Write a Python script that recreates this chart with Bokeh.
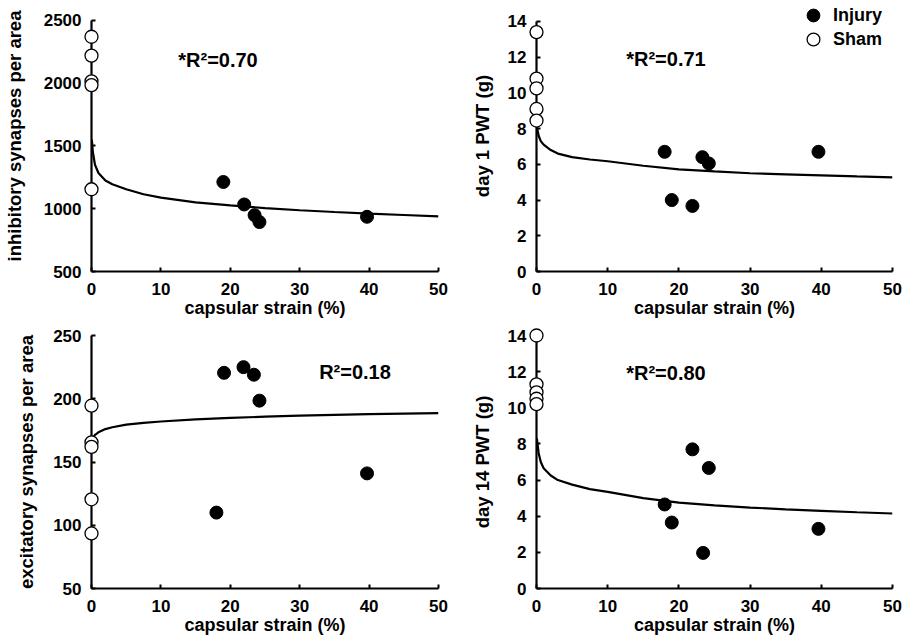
from bokeh.plotting import figure
from bokeh.layouts import gridplot
from bokeh.models import Range1d, SingleIntervalTicker, Label, Legend, LegendItem
from bokeh.embed import file_html
from bokeh.resources import INLINE

FONT = "Liberation Sans"

# ---------------- data ----------------
x_ticks_interval = 10

# panel 1: inhibitory synapses per area
sham_y1 = [2370, 2220, 2015, 1985, 1155]
inj_x1 = [19.0, 22.0, 23.5, 24.2, 39.7]
inj_y1 = [1213, 1034, 949, 894, 936]
fit_x1 = [0.05, 0.2, 0.5, 1, 2, 3, 5, 7.5, 10, 15, 20, 25, 30, 35, 40, 45, 50]
fit_y1 = [1550, 1450, 1350, 1285, 1225, 1195, 1155, 1115, 1088, 1050, 1026, 1005, 988, 974, 961, 950, 939]

# panel 2: day 1 PWT (g)
sham_y2 = [13.4, 10.8, 10.25, 9.1, 8.45]
inj_x2 = [18.0, 19.0, 21.9, 23.3, 24.2, 39.6]
inj_y2 = [6.7, 4.0, 3.67, 6.4, 6.05, 6.7]
fit_x2 = [0.05, 0.3, 0.6, 1, 2, 3, 5, 7.5, 10, 15, 20, 25, 30, 35, 40, 45, 50]
fit_y2 = [8.1, 7.6, 7.3, 7.1, 6.8, 6.6, 6.4, 6.27, 6.17, 5.92, 5.72, 5.6, 5.5, 5.44, 5.38, 5.32, 5.27]

# panel 3: excitatory synapses per area
sham_y3 = [194.5, 165.5, 162, 120.5, 93.5]
inj_x3 = [18.0, 19.1, 21.9, 23.4, 24.2, 39.7]
inj_y3 = [110, 220.5, 225, 219, 198.5, 141]
fit_x3 = [0.05, 0.2, 0.5, 1, 2, 3, 5, 7.5, 10, 15, 20, 25, 30, 35, 40, 45, 50]
fit_y3 = [166, 169, 171.5, 173.5, 176, 177.5, 179.5, 181, 182, 183.7, 184.9, 185.8, 186.6, 187.3, 187.9, 188.3, 188.7]

# panel 4: day 14 PWT (g)
sham_y4 = [14.0, 11.3, 10.85, 10.5, 10.2]
inj_x4 = [18.0, 19.0, 21.9, 23.4, 24.2, 39.6]
inj_y4 = [4.65, 3.65, 7.7, 1.97, 6.67, 3.3]
fit_x4 = [0.05, 0.3, 0.6, 1, 2, 3, 5, 7.5, 10, 15, 20, 25, 30, 35, 40, 45, 50]
fit_y4 = [8.3, 7.5, 7.0, 6.65, 6.25, 6.0, 5.75, 5.5, 5.35, 5.0, 4.75, 4.6, 4.48, 4.38, 4.3, 4.22, 4.15]

x_label = "capsular strain (%)"
legend_labels = ["Injury", "Sham"]


def panel(ylabel, ylo, yhi, ystep, sham_y, inj_x, inj_y, fit_x, fit_y,
          r2_text, r2_x, r2_y, height, bl, br, bt, bb, ystandoff, yview_hi=None):
    p = figure(width=456, height=height, output_backend="svg", toolbar_location=None,
               x_range=Range1d(0, 50), y_range=Range1d(ylo, yview_hi if yview_hi else yhi),
               min_border_left=bl, min_border_right=br, min_border_top=bt, min_border_bottom=bb)
    p.background_fill_color = "white"
    p.border_fill_color = "white"
    p.outline_line_color = None
    p.grid.visible = False
    for ax in (p.xaxis[0], p.yaxis[0]):
        ax.axis_line_width = 2.2
        ax.axis_line_color = "black"
        ax.major_tick_in = 4
        ax.major_tick_out = 0
        ax.major_tick_line_width = 2
        ax.minor_tick_line_color = None
        ax.major_label_text_font = FONT
        ax.major_label_text_font_style = "bold"
        ax.major_label_text_font_size = "17px"
        ax.major_label_text_color = "black"
        ax.axis_label_text_font = FONT
        ax.axis_label_text_color = "black"
        ax.axis_label_text_font_style = "bold"
    p.yaxis.bounds = (ylo, yhi)
    p.xaxis.ticker = SingleIntervalTicker(interval=x_ticks_interval)
    p.yaxis.ticker = SingleIntervalTicker(interval=ystep)
    p.xaxis.axis_label = x_label
    p.xaxis.axis_label_text_font_size = "18px"
    p.xaxis.major_label_standoff = 7
    p.xaxis.axis_label_standoff = 0
    p.yaxis.axis_label = ylabel
    p.yaxis.axis_label_text_font_size = "18.5px"
    p.yaxis.major_label_standoff = 6
    p.yaxis.axis_label_standoff = ystandoff

    p.line(fit_x, fit_y, line_color="black", line_width=2.2)
    r_inj = p.scatter(inj_x, inj_y, size=13, marker="circle", fill_color="black",
                      line_color="black", level="overlay")
    r_sham = p.scatter([0] * len(sham_y), sham_y, size=13, marker="circle",
                       fill_color="white", line_color="black", line_width=1.3, level="overlay")
    p.add_layout(Label(x=r2_x, y=r2_y, text=r2_text, text_font=FONT, text_font_style="bold",
                       text_font_size="20px", text_baseline="middle", text_color="black"))
    return p, r_inj, r_sham


# top row: plotting areas reach the top of the page (axes bounded to the data range)
# so that the legend above the axis top is not clipped
p1, _, _ = panel("inhibitory synapses per area", 500, 2500, 500, sham_y1, inj_x1, inj_y1,
                 fit_x1, fit_y1, "*R\u00b2=0.70", 12.5, 2185, 320, 91, 18, 0, 48, 16,
                 yview_hi=2658.7)
p2, ri, rs = panel("day 1 PWT (g)", 0, 14, 2, sham_y2, inj_x2, inj_y2,
                   fit_x2, fit_y2, "*R\u00b2=0.71", 12.6, 11.9, 320, 80, 20, 0, 48, 12,
                   yview_hi=15.17)
p3, _, _ = panel("excitatory synapses per area", 50, 250, 50, sham_y3, inj_x3, inj_y3,
                 fit_x3, fit_y3, "R\u00b2=0.18", 32.8, 220.8, 317, 83, 18, 15, 49, 13)
p4, _, _ = panel("day 14 PWT (g)", 0, 14, 2, sham_y4, inj_x4, inj_y4,
                 fit_x4, fit_y4, "*R\u00b2=0.80", 12.6, 11.95, 317, 80, 20, 15, 49, 12)


def one_item_legend(label, renderer, loc):
    return Legend(items=[LegendItem(label=label, renderers=[renderer])],
                  location=loc, glyph_width=32, glyph_height=32,
                  padding=0, margin=0, label_standoff=4,
                  label_text_font=FONT, label_text_font_style="bold",
                  label_text_font_size="18px", label_text_color="black",
                  border_line_color=None, background_fill_alpha=0)


p2.add_layout(one_item_legend(legend_labels[0], ri, (261, 240)))
p2.add_layout(one_item_legend(legend_labels[1], rs, (261, 216)))

grid = gridplot([[p1, p2], [p3, p4]], toolbar_location=None)
open("out.html", "w").write(file_html(grid, INLINE))
